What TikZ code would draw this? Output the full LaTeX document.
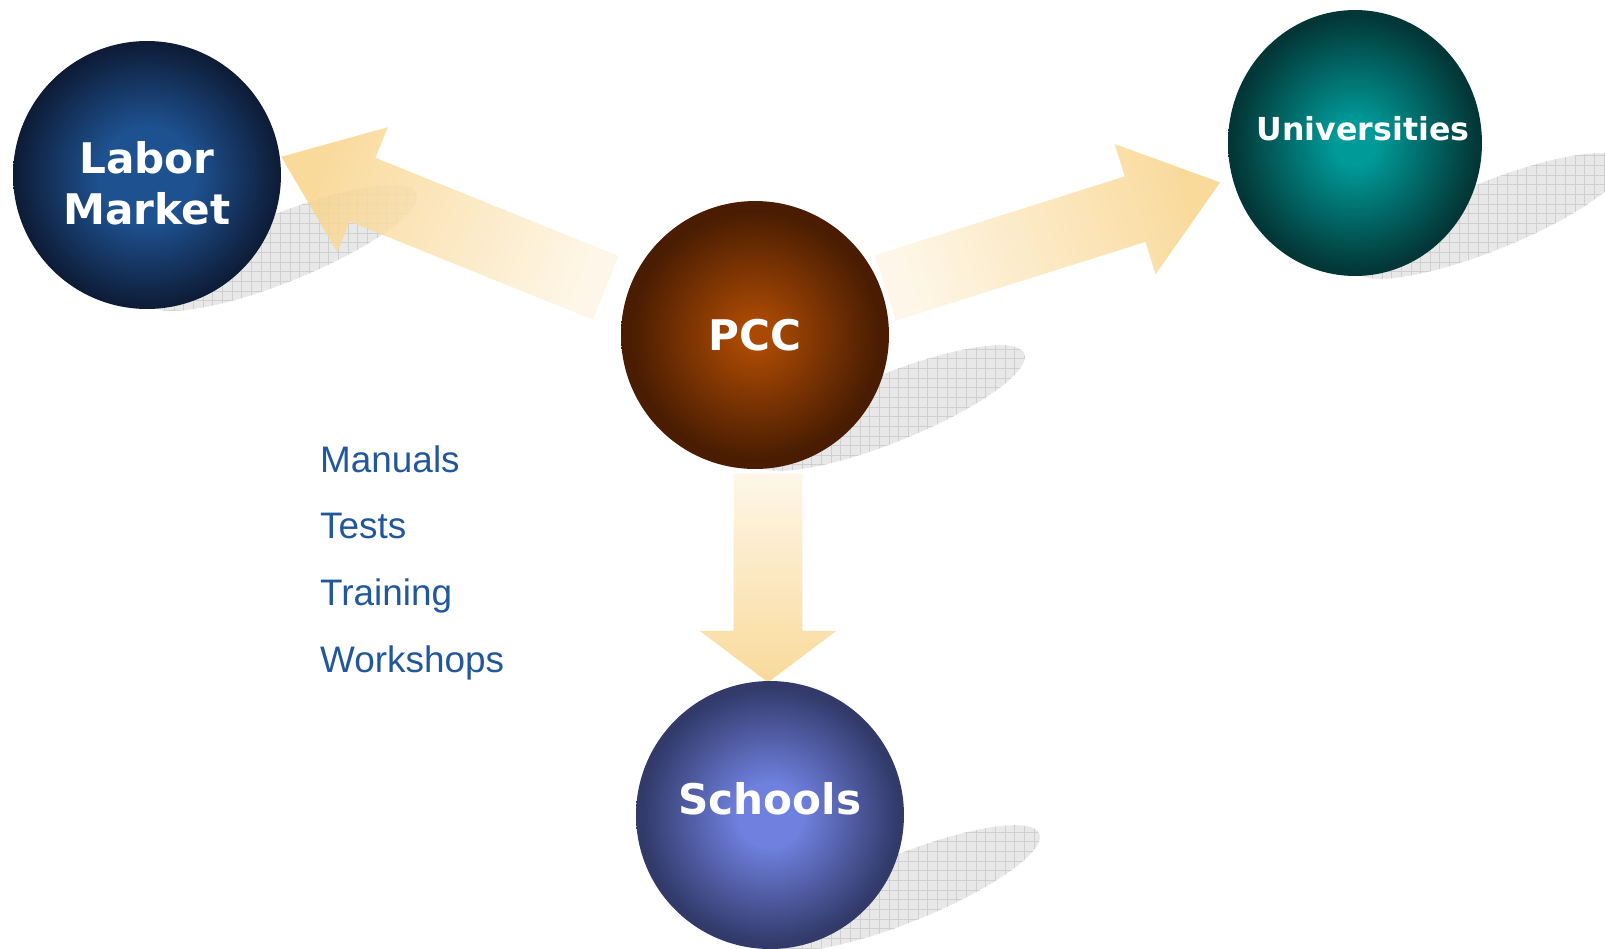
\documentclass[tikz,border=0pt]{standalone}
\usepackage{fontspec}
\setmainfont{Liberation Sans}
\newfontfamily\ballfont{DejaVu Sans}
\usetikzlibrary{shapes.geometric,shapes.arrows,patterns.meta,calc}

\definecolor{laborin}{HTML}{1E5190}
\definecolor{laborout}{HTML}{0D1B35}
\definecolor{pccin}{HTML}{A94904}
\definecolor{pccout}{HTML}{4A1D02}
\definecolor{schoolsin}{HTML}{6F80DE}
\definecolor{schoolsout}{HTML}{323A6A}
\definecolor{uniin}{HTML}{009B99}
\definecolor{uniout}{HTML}{033737}
\definecolor{arrowtip}{HTML}{F8D389}
\definecolor{arrowtail}{HTML}{FEF5E4}
\definecolor{listblue}{HTML}{22589B}

\pgfdeclareradialshading{laborball}{\pgfpoint{0bp}{0bp}}{color(0bp)=(laborin); color(9bp)=(laborin); color(25bp)=(laborout); color(50bp)=(laborout)}
\pgfdeclareradialshading{pccball}{\pgfpoint{0bp}{0bp}}{color(0bp)=(pccin); color(3bp)=(pccin); color(23bp)=(pccout); color(50bp)=(pccout)}
\pgfdeclareradialshading{schoolsball}{\pgfpoint{0bp}{0bp}}{color(0bp)=(schoolsin); color(6bp)=(schoolsin); color(24bp)=(schoolsout); color(50bp)=(schoolsout)}
\pgfdeclareradialshading{uniball}{\pgfpoint{0bp}{0bp}}{color(0bp)=(uniin); color(4bp)=(uniin); color(24bp)=(uniout); color(50bp)=(uniout)}

\pgfdeclarelayer{shadows}
\pgfdeclarelayer{arrows}
\pgfsetlayers{shadows,arrows,main}

\begin{document}
\begin{tikzpicture}[x=0.02cm, y=0.02cm,
  ball/.style={circle, minimum size=5.36cm, inner sep=0pt, shade},
  balltext/.style={text=white, font=\ballfont\bfseries\fontsize{24}{29}\selectfont, align=center},
  blob/.style={ellipse, minimum width=5.8cm, minimum height=1.36cm, inner sep=0pt, rotate=22, fill=gray!18,
    postaction={pattern={Lines[angle=0,distance=5.5pt,line width=.4pt]}, pattern color=gray!38},
    postaction={pattern={Lines[angle=90,distance=5.5pt,line width=.4pt]}, pattern color=gray!38}},
  bigarrow/.style={single arrow, single arrow head indent=0pt, inner xsep=0pt, inner ysep=0.68cm,
    anchor=tail, top color=arrowtip, bottom color=arrowtail, fill opacity=.85},
  listitem/.style={anchor=base west, text=listblue, font=\fontsize{21}{25}\selectfont}]

\useasboundingbox (0,0) rectangle (1605,-948);

% the four balls
\node[ball, shading=laborball] (labor) at (147,-175) {};
\node[ball, shading=pccball] (pcc) at (755,-335) {};
\node[ball, shading=schoolsball] (schools) at (770,-815) {};
\node[ellipse, minimum width=5.08cm, minimum height=5.32cm, inner sep=0pt, shade, shading=uniball] (uni) at (1355,-143) {};

\node[balltext] (laborname) at ([yshift=-0.17cm]labor) {Labor\\Market};
\node[balltext] (pccname) at (pcc) {PCC};
\node[balltext] (schoolsname) at ([yshift=0.33cm]schools) {Schools};
\node[balltext, font=\ballfont\bfseries\fontsize{18}{22}\selectfont] (uniname) at ([xshift=0.16cm,yshift=0.29cm]uni) {Universities};

% shadows behind the balls
\begin{pgfonlayer}{shadows}
\node[blob] (laborshadow) at ($(labor)+(135,-73)$) {};
\node[blob] (pccshadow) at ($(pcc)+(135,-73)$) {};
\node[blob] (schoolsshadow) at ($(schools)+(135,-73)$) {};
\node[blob] (unishadow) at ($(uni)+(135,-73)$) {};
\end{pgfonlayer}

% block arrows out of PCC
\begin{pgfonlayer}{arrows}
\node[bigarrow, shading angle=68, minimum height=7cm, minimum width=2.68cm, single arrow head extend=0.66cm,
  single arrow tip angle=75, rotate=158] (tolabor) at (606,-288) {};
\node[bigarrow, shading angle=-72, minimum height=7.02cm, minimum width=2.72cm, single arrow head extend=0.68cm,
  single arrow tip angle=75, rotate=17.5] (touni) at (885,-288) {};
\node[bigarrow, shading angle=180, minimum height=4.18cm, minimum width=2.72cm, single arrow head extend=0.68cm,
  single arrow tip angle=106, rotate=-90] (toschools) at (768,-473) {};
\end{pgfonlayer}

% what PCC provides
\node[listitem] (manuals) at (314,-472) {Manuals};
\node[listitem] (tests) at (314,-538) {Tests};
\node[listitem] (training) at (314,-605) {Training};
\node[listitem] (workshops) at (314,-672) {Workshops};

\end{tikzpicture}
\end{document}
